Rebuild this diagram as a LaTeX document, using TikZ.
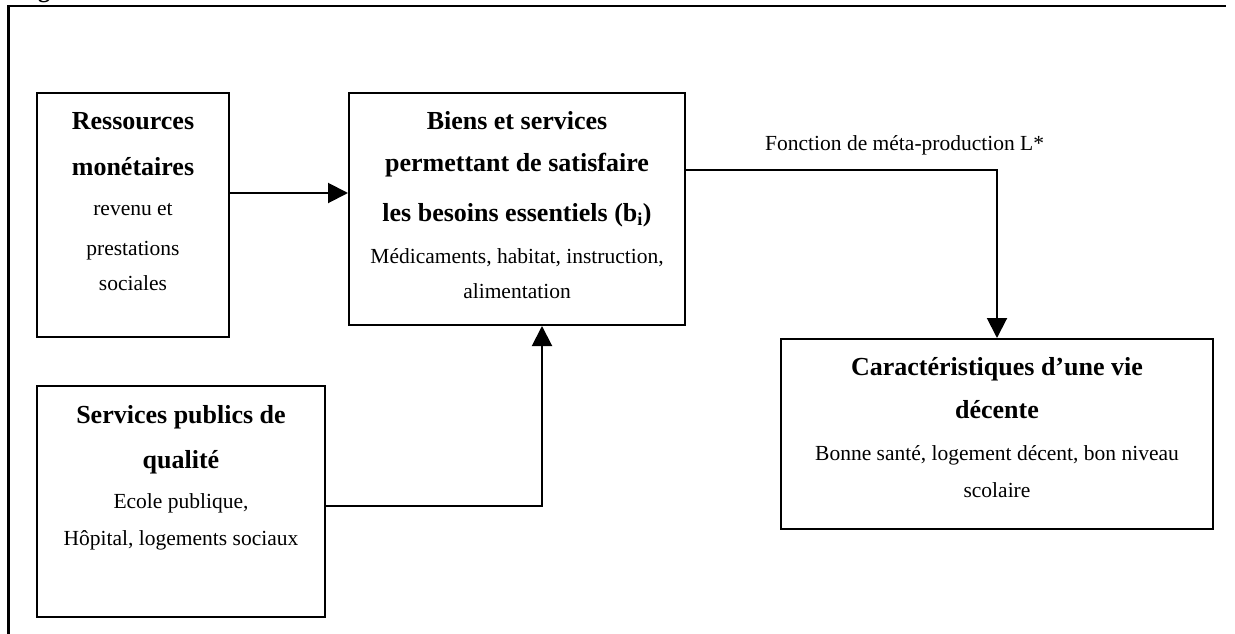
\documentclass[tikz,border=0pt]{standalone}
\usepackage{fontspec}
\setmainfont{Liberation Serif}
\usetikzlibrary{arrows.meta}
\begin{document}
\begin{tikzpicture}[x=1pt,y=-1pt,
  box/.style={draw, line width=2pt, inner sep=0pt},
  ttl/.style={font=\fontsize{26}{30}\selectfont\bfseries, anchor=base, inner sep=0pt},
  txt/.style={font=\fontsize{21.5}{26}\selectfont, anchor=base, inner sep=0pt},
  conn/.style={line width=2pt, -{Triangle[length=20pt,width=20pt]}},
  frame/.style={line width=2.5pt}
]
\useasboundingbox (0,0) rectangle (1235,634);

% outer frame (left and top only)
\coordinate (fb) at (8.7,640);
\coordinate (fc) at (8.7,6);
\coordinate (fr) at (1226,6);
\draw[frame] (fb) -- (fc) -- (fr);
\node[font=\fontsize{24}{28}\selectfont\bfseries, anchor=base, inner sep=0pt] (cap) at (44,-2) {g};

% boxes
\node[box, minimum width=192pt, minimum height=244pt] (res) at (133,215) {};
\node[box, minimum width=336pt, minimum height=232pt] (biens) at (517,209) {};
\node[box, minimum width=288pt, minimum height=231pt] (serv) at (181,501.5) {};
\node[box, minimum width=432pt, minimum height=190pt] (car) at (997,434) {};

% Ressources
\node[ttl] (r1) at (133,129) {Ressources};
\node[ttl] (r2) at (133,175) {monétaires};
\node[txt] (r3) at (133,215) {revenu et};
\node[txt] (r4) at (133,255) {prestations};
\node[txt] (r5) at (133,290) {sociales};

% Biens
\node[ttl] (b1) at (517,129) {Biens et services};
\node[ttl] (b2) at (517,171) {permettant de satisfaire};
\node[ttl] (b3) at (517,221) {les besoins essentiels (b\textsubscript{i})};
\node[txt] (b4) at (517,263) {Médicaments, habitat, instruction,};
\node[txt] (b5) at (517,298) {alimentation};

% Services
\node[ttl] (s1) at (181,423) {Services publics de};
\node[ttl] (s2) at (181,468) {qualité};
\node[txt] (s3) at (181,508) {Ecole publique,};
\node[txt] (s4) at (181,545) {Hôpital, logements sociaux};

% Caracteristiques
\node[ttl] (c1) at (997,375) {Caractéristiques d’une vie};
\node[ttl] (c2) at (997,418) {décente};
\node[txt] (c3) at (997,460) {Bonne santé, logement décent, bon niveau};
\node[txt] (c4) at (997,497) {scolaire};

% label
\node[txt, anchor=base west] (lab) at (765,150) {Fonction de méta-production L*};

% connectors
\draw[conn] (res.east |- 0,193) -- (biens.west |- 0,193);
\draw[conn] (serv.east |- 0,506) -| (biens.south -| 542,0);
\draw[conn] (biens.east |- 0,170) -| (car.north);
\end{tikzpicture}
\end{document}
